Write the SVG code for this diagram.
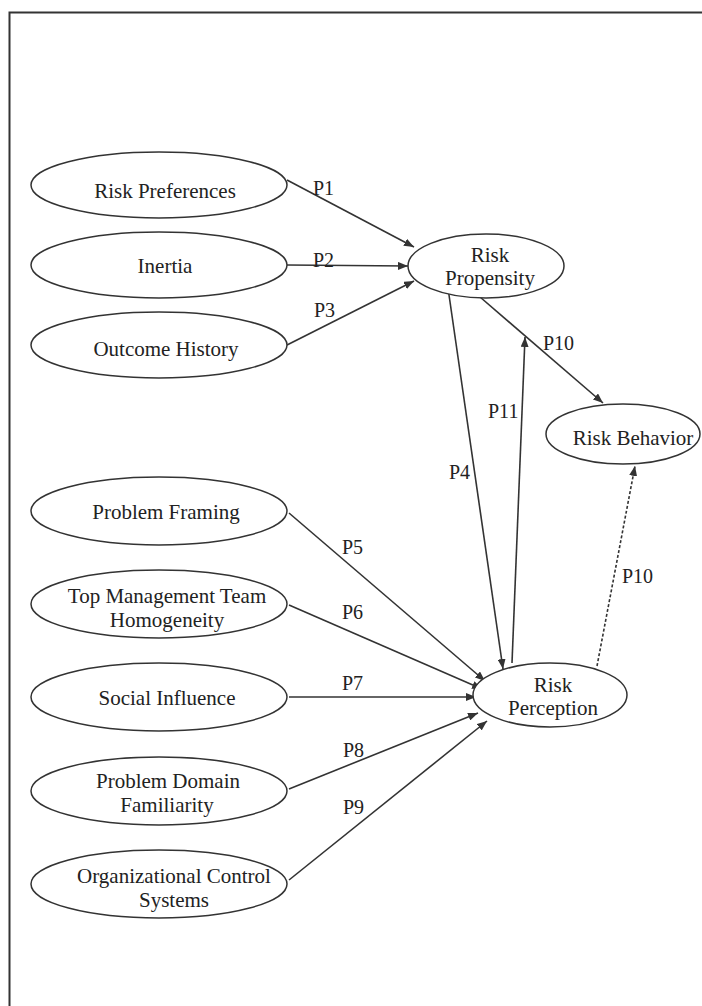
<svg xmlns="http://www.w3.org/2000/svg" width="702" height="1006" viewBox="0 0 702 1006">
  <style>
    .node ellipse { fill: #ffffff; stroke: #333333; stroke-width: 1.5; }
    .node text { font-family: "Liberation Serif", "Times New Roman", serif; font-size: 21px; fill: #222222; text-anchor: middle; }
    .lbl { font-family: "Liberation Serif", "Times New Roman", serif; font-size: 20px; fill: #222222; }
    .edge { stroke: #333333; stroke-width: 1.6; fill: none; marker-end: url(#arrow); }
    .dashed { stroke-dasharray: 3 2; }
    .frame { stroke: #333333; stroke-width: 2; fill: none; }
  </style>
  <defs>
    <marker id="arrow" viewBox="0 0 10 8" refX="10" refY="4" markerWidth="10" markerHeight="8" markerUnits="userSpaceOnUse" orient="auto">
      <path d="M0,0 L10,4 L0,8 Z" fill="#333333"/>
    </marker>
  </defs>
  <rect width="702" height="1006" fill="#ffffff"/>
  <!-- outer frame: top and left edges -->
  <path class="frame" d="M9.5,1006 V12.5 H702"/>

  <g id="connectors">
    <line class="edge" x1="287" y1="180" x2="414" y2="247"/>
    <line class="edge" x1="287" y1="265" x2="408" y2="266"/>
    <line class="edge" x1="287" y1="345" x2="414" y2="281"/>
    <line class="edge" x1="448" y1="288" x2="503" y2="669"/>
    <line class="edge" x1="512" y1="663" x2="525" y2="337"/>
    <line class="edge" x1="480" y1="297" x2="603" y2="403"/>
    <line class="edge dashed" x1="597" y1="666" x2="635" y2="466"/>
    <line class="edge" x1="289" y1="513" x2="485" y2="681"/>
    <line class="edge" x1="289" y1="605" x2="482" y2="689"/>
    <line class="edge" x1="289" y1="697" x2="476" y2="697"/>
    <line class="edge" x1="289" y1="789" x2="478" y2="713"/>
    <line class="edge" x1="289" y1="880" x2="487" y2="721"/>
    <text class="lbl" x="313" y="195">P1</text>
    <text class="lbl" x="313" y="267">P2</text>
    <text class="lbl" x="314" y="317">P3</text>
    <text class="lbl" x="449" y="479">P4</text>
    <text class="lbl" x="342" y="554">P5</text>
    <text class="lbl" x="342" y="619">P6</text>
    <text class="lbl" x="342" y="690">P7</text>
    <text class="lbl" x="343" y="757">P8</text>
    <text class="lbl" x="343" y="814">P9</text>
    <text class="lbl" x="543" y="350">P10</text>
    <text class="lbl" x="622" y="583">P10</text>
    <text class="lbl" x="488" y="418">P11</text>
  </g>

  <g id="risk-preferences" class="node">
    <ellipse cx="159" cy="185" rx="128" ry="33"/>
    <text x="165" y="198">Risk Preferences</text>
  </g>
  <g id="inertia" class="node">
    <ellipse cx="159" cy="265" rx="128" ry="33"/>
    <text x="165" y="273">Inertia</text>
  </g>
  <g id="outcome-history" class="node">
    <ellipse cx="159" cy="345" rx="128" ry="33"/>
    <text x="166" y="356">Outcome History</text>
  </g>
  <g id="risk-propensity" class="node">
    <ellipse cx="486" cy="266" rx="78" ry="32"/>
    <text x="490" y="262">Risk</text>
    <text x="490" y="285">Propensity</text>
  </g>
  <g id="risk-behavior" class="node">
    <ellipse cx="623" cy="434" rx="77" ry="30"/>
    <text x="633" y="445">Risk Behavior</text>
  </g>
  <g id="problem-framing" class="node">
    <ellipse cx="159" cy="511" rx="128" ry="34"/>
    <text x="166" y="519">Problem Framing</text>
  </g>
  <g id="tmt-homogeneity" class="node">
    <ellipse cx="159" cy="604" rx="128" ry="34"/>
    <text x="167" y="603">Top Management Team</text>
    <text x="167" y="627">Homogeneity</text>
  </g>
  <g id="social-influence" class="node">
    <ellipse cx="159" cy="697" rx="128" ry="34"/>
    <text x="167" y="705">Social Influence</text>
  </g>
  <g id="problem-domain-familiarity" class="node">
    <ellipse cx="159" cy="791" rx="128" ry="34"/>
    <text x="168" y="788">Problem Domain</text>
    <text x="167" y="812">Familiarity</text>
  </g>
  <g id="organizational-control-systems" class="node">
    <ellipse cx="159" cy="884" rx="128" ry="34"/>
    <text x="174" y="883">Organizational Control</text>
    <text x="174" y="907">Systems</text>
  </g>
  <g id="risk-perception" class="node">
    <ellipse cx="550" cy="695" rx="77" ry="32"/>
    <text x="553" y="692">Risk</text>
    <text x="553" y="715">Perception</text>
  </g>
</svg>
